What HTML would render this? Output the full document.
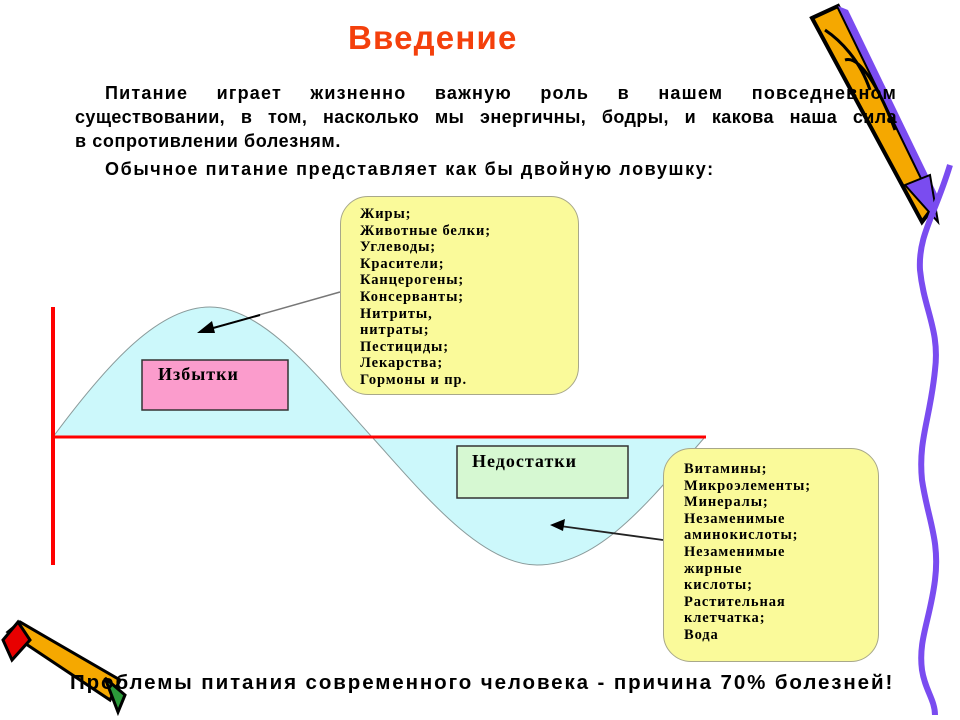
<!DOCTYPE html>
<html><head><meta charset="utf-8"><style>
body{margin:0;width:960px;height:720px;background:#fff;position:relative;overflow:hidden;font-family:"Liberation Sans","DejaVu Sans",sans-serif}
.t{position:absolute;font-weight:bold;color:#000}
#title{left:348px;top:19px;font-size:33px;color:#f4400c;letter-spacing:1.2px}
.pl{position:absolute;font-weight:bold;font-size:18px;letter-spacing:1.2px;white-space:nowrap}
.j{text-align:justify;text-align-last:justify;white-space:normal}
.yl{position:absolute;background:#fafa9a;border:1.5px solid #a8a88a;border-radius:28px;font-family:"Liberation Serif","DejaVu Serif",serif;font-weight:bold;font-size:14.5px;line-height:16.6px;letter-spacing:0.9px}
#bot{left:70px;top:671px;font-size:20.5px;letter-spacing:1.9px;white-space:nowrap}
</style></head><body>
<svg width="960" height="720" style="position:absolute;left:0;top:0">
<path d="M53,437 C110,360 160,307 210,307 C265,307 320,380 372,437 C420,490 480,565 537,565 C600,565 650,500 705,437 Z" fill="#ccf8fb" stroke="#8a9a9a" stroke-width="1"/>
<line x1="53" y1="307" x2="53" y2="565" stroke="#f00" stroke-width="4"/>
<line x1="51" y1="437" x2="706" y2="437" stroke="#f00" stroke-width="3"/>
<rect x="142" y="360" width="146" height="50" fill="#fb9ccc" stroke="#333" stroke-width="1.5"/>
<rect x="457" y="446" width="171" height="52" fill="#d6f8d2" stroke="#333" stroke-width="1.5"/>
<line x1="340" y1="292" x2="206" y2="330" stroke="#777" stroke-width="1.5"/>
<line x1="260" y1="315" x2="206" y2="330" stroke="#000" stroke-width="2"/>
<polygon points="197,333 212,321 215,333" fill="#000"/>
<line x1="663" y1="540" x2="560" y2="526" stroke="#222" stroke-width="1.8"/>
<polygon points="550,525 565,519 563,531" fill="#000"/>
<polygon points="812,18 838,6 935,205 922,222" fill="#f5a800" stroke="#000" stroke-width="4"/>
<polygon points="838,6 848,10 940,200 935,205" fill="#7a4cf0"/>
<polygon points="905,185 930,175 938,222 " fill="#7a4cf0" stroke="#000" stroke-width="2"/>
<path d="M825,30 C840,40 860,60 870,90 M845,60 C860,55 880,90 895,130" stroke="#000" stroke-width="3" fill="none"/>
<path d="M950,165 C935,215 918,235 920,270 C924,310 940,330 935,370 C930,420 918,440 922,480 C928,520 940,540 935,580 C930,620 918,640 922,670 C925,690 935,700 935,715" stroke="#7a4cf0" stroke-width="6" fill="none"/>
<polygon points="8,632 20,622 120,680 110,700" fill="#f5a800" stroke="#000" stroke-width="3"/>
<polygon points="3,640 18,622 30,640 12,660" fill="#e80000" stroke="#000" stroke-width="3"/>
<polygon points="105,678 125,695 118,712" fill="#2c9a3a" stroke="#000" stroke-width="3"/>
</svg>
<div class="t" id="title">Введение</div>
<div class="pl j" style="left:105px;top:83px;width:792px">Питание играет жизненно важную роль в нашем повседневном</div>
<div class="pl j" style="left:75px;top:107px;width:822px;letter-spacing:0.4px">существовании, в том, насколько мы энергичны, бодры, и какова наша сила</div>
<div class="pl" style="left:75px;top:131px;letter-spacing:0.6px">в сопротивлении болезням.</div>
<div class="pl" style="left:105px;top:159px;letter-spacing:1.6px">Обычное питание представляет как бы двойную ловушку:</div>
<div class="yl" style="left:340px;top:196px;width:218px;height:188px;padding:9px 0 0 19px">Жиры;<br>Животные белки;<br>Углеводы;<br>Красители;<br>Канцерогены;<br>Консерванты;<br>Нитриты,<br>нитраты;<br>Пестициды;<br>Лекарства;<br>Гормоны и пр.</div>
<div class="yl" style="left:663px;top:448px;width:194px;height:200px;padding:12px 0 0 20px">Витамины;<br>Микроэлементы;<br>Минералы;<br>Незаменимые<br>аминокислоты;<br>Незаменимые<br>жирные<br>кислоты;<br>Растительная<br>клетчатка;<br>Вода</div>
<div class="t" style="left:158px;top:364px;font-family:'Liberation Serif',serif;font-size:18px;letter-spacing:1px">Избытки</div>
<div class="t" style="left:472px;top:451px;font-family:'Liberation Serif',serif;font-size:18px;letter-spacing:1px">Недостатки</div>
<div class="t" id="bot">Проблемы питания современного человека - причина 70% болезней!</div>
</body></html>
